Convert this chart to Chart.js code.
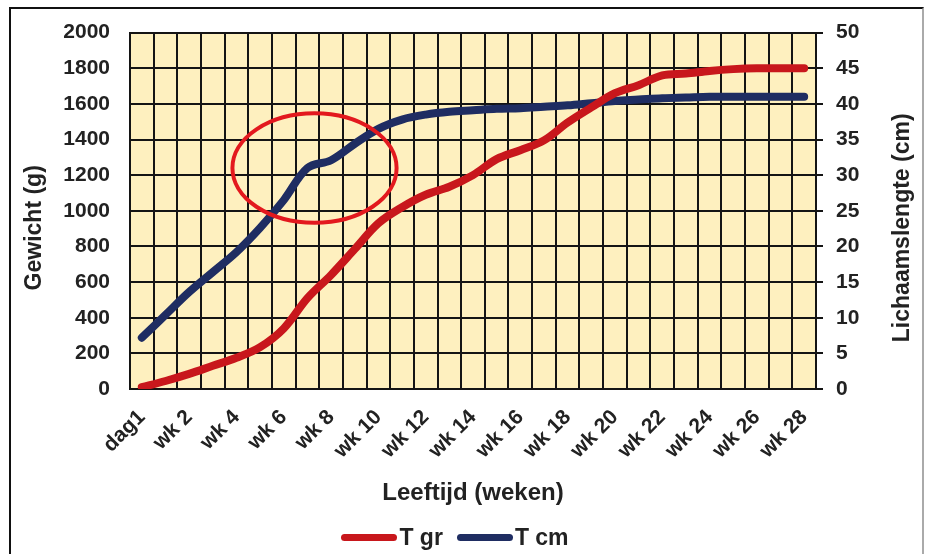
<!DOCTYPE html>
<html>
<head>
<meta charset="utf-8">
<script src="https://cdn.jsdelivr.net/npm/chart.js@4.4.0/dist/chart.umd.min.js"></script>
<style>
  html, body { margin: 0; padding: 0; background: #fff; overflow: hidden; }
  #frame { position: absolute; left: 9px; top: 7px; width: 911px; height: 570px;
           border-left: 2px solid #111; border-top: 2px solid #111; border-right: 2px solid #aaa; }
  #wrap { position: absolute; left: 0; top: 0; width: 930px; height: 554px; }
  #legenda { position: absolute; left: 0; top: 524px; width: 910px; display: flex; justify-content: center;
             font: bold 23px 'Liberation Sans', Arial, sans-serif; color: #222; }
  #legenda .item { display: flex; align-items: center; margin: 0 7px; }
  #legenda .streep { display: inline-block; width: 56px; height: 7px; border-radius: 4px; margin-right: 2px; }
</style>
</head>
<body>
<div id="frame"></div>
<div id="wrap"><canvas id="groeichart"></canvas></div>
<div id="legenda"></div>
<script>
// leeftijd categories (dag1, wk 1 .. wk 28)
var weken = ['dag1', 'wk 1', 'wk 2', 'wk 3', 'wk 4', 'wk 5', 'wk 6', 'wk 7', 'wk 8', 'wk 9',
  'wk 10', 'wk 11', 'wk 12', 'wk 13', 'wk 14', 'wk 15', 'wk 16', 'wk 17', 'wk 18', 'wk 19',
  'wk 20', 'wk 21', 'wk 22', 'wk 23', 'wk 24', 'wk 25', 'wk 26', 'wk 27', 'wk 28'];

// gewicht in gram (T gr)
var gewicht = [10, 45, 85, 130, 175, 235, 340, 510, 640, 785, 930, 1020, 1090, 1135, 1200,
  1290, 1340, 1395, 1495, 1580, 1660, 1705, 1760, 1770, 1785, 1795, 1800, 1800, 1800];

// lichaamslengte in cm (T cm)
var lengte = [7.2, 10.4, 13.6, 16.4, 19.2, 22.6, 26.5, 31.0, 32.1, 34.4, 36.5, 37.8, 38.5, 38.9,
  39.1, 39.3, 39.4, 39.6, 39.8, 40.1, 40.4, 40.6, 40.8, 40.9, 41.0, 41.0, 41.0, 41.0, 41.0];

// red circle around the growth spurt, in data units (category index / gram)
var cirkel = { x: 7.3, y: 1240, rx: 3.47, ry: 307 };

var tekst = '#222';
var lijn = '#141414';
var fnt = { family: 'Liberation Sans, Arial, sans-serif', size: 21, weight: 'bold' };
var titelFnt = { family: 'Liberation Sans, Arial, sans-serif', size: 24, weight: 'bold' };

// yellow plot area
var achtergrond = {
  id: 'achtergrond',
  beforeDraw: function(chart) {
    var a = chart.chartArea, ctx = chart.ctx;
    ctx.save();
    ctx.fillStyle = '#fef0bf';
    ctx.fillRect(a.left, a.top, a.right - a.left, a.bottom - a.top);
    ctx.restore();
  }
};

// ellipse annotation
var ellips = {
  id: 'ellips',
  afterDatasetsDraw: function(chart) {
    var xs = chart.scales.x, ys = chart.scales.y, ctx = chart.ctx;
    var cx = xs.getPixelForValue(cirkel.x);
    var cy = ys.getPixelForValue(cirkel.y);
    var rx = xs.getPixelForValue(cirkel.x + cirkel.rx) - cx;
    var ry = cy - ys.getPixelForValue(cirkel.y + cirkel.ry);
    ctx.save();
    ctx.strokeStyle = '#e3191e';
    ctx.lineWidth = 4;
    ctx.beginPath();
    ctx.ellipse(cx, cy, rx, ry, 0, 0, Math.PI * 2);
    ctx.stroke();
    ctx.restore();
  }
};

// both vertical axis titles read bottom-to-top, so draw them ourselves
var asTitels = {
  id: 'asTitels',
  afterDraw: function(chart) {
    var ctx = chart.ctx;
    var midden = (chart.chartArea.top + chart.chartArea.bottom) / 2 + 17;
    var ys = chart.scales.y, y1 = chart.scales.y1;
    ctx.save();
    ctx.fillStyle = tekst;
    ctx.font = 'bold 23px Liberation Sans, Arial, sans-serif';
    ctx.textAlign = 'center';
    ctx.textBaseline = 'middle';
    [[ys.left + 35, ys.options.title.text], [y1.right - 27, y1.options.title.text]].forEach(function(t) {
      ctx.save();
      ctx.translate(t[0], midden);
      ctx.rotate(-Math.PI / 2);
      ctx.fillText(t[1], 0, 0);
      ctx.restore();
    });
    ctx.restore();
  }
};

var ctx = document.getElementById('groeichart').getContext('2d');
var groeiChart = new Chart(ctx, {
  type: 'line',
  data: {
    labels: weken,
    datasets: [{
      label: 'T gr',
      data: gewicht,
      yAxisID: 'y',
      borderColor: '#c8171c',
      backgroundColor: '#c8171c',
      borderWidth: 8,
      borderCapStyle: 'round',
      borderJoinStyle: 'round',
      pointRadius: 0,
      tension: 0.35
    }, {
      label: 'T cm',
      data: lengte,
      yAxisID: 'y1',
      borderColor: '#1f2d62',
      backgroundColor: '#1f2d62',
      borderWidth: 8,
      borderCapStyle: 'round',
      borderJoinStyle: 'round',
      pointRadius: 0,
      tension: 0.35
    }]
  },
  options: {
    responsive: true,
    maintainAspectRatio: false,
    animation: false,
    layout: { padding: { left: 0, right: 0, top: 29, bottom: 40 } },
    plugins: {
      tooltip: { enabled: false },
      legend: { display: false }
    },
    scales: {
      x: {
        offset: true,
        grid: { offset: true, color: lijn, lineWidth: 2, drawTicks: false },
        border: { color: lijn, width: 2 },
        ticks: {
          autoSkip: false, maxRotation: 45, minRotation: 45, padding: 16,
          color: tekst, font: fnt,
          callback: function(v, i) { return i % 2 === 0 ? this.getLabelForValue(v) : ''; }
        },
        title: { display: true, text: 'Leeftijd (weken)', color: tekst, font: titelFnt, padding: { top: 0, bottom: 6 } },
        afterFit: function(s) { s.height = 125; }
      },
      y: {
        position: 'left',
        min: 0, max: 2000,
        grid: { color: lijn, lineWidth: 2, drawTicks: false },
        border: { color: lijn, width: 2 },
        ticks: { stepSize: 200, padding: 20, color: tekst, font: fnt, callback: function(v) { return String(v); } },
        title: { display: false, text: 'Gewicht (g)' },
        afterFit: function(s) { s.width = 130; }
      },
      y1: {
        position: 'right',
        min: 0, max: 50,
        grid: { drawOnChartArea: false, color: lijn, lineWidth: 2, tickLength: 7 },
        border: { color: lijn, width: 2 },
        ticks: { stepSize: 5, padding: 13, color: tekst, font: fnt, callback: function(v) { return String(v); } },
        title: { display: false, text: 'Lichaamslengte (cm)' },
        afterFit: function(s) { s.width = 114; }
      }
    }
  },
  plugins: [achtergrond, ellips, asTitels]
});

// html legend built from the datasets
var legenda = document.getElementById('legenda');
groeiChart.data.datasets.forEach(function(ds) {
  var item = document.createElement('span');
  item.className = 'item';
  var streep = document.createElement('span');
  streep.className = 'streep';
  streep.style.background = ds.borderColor;
  item.appendChild(streep);
  item.appendChild(document.createTextNode(ds.label));
  legenda.appendChild(item);
});
</script>
</body>
</html>
